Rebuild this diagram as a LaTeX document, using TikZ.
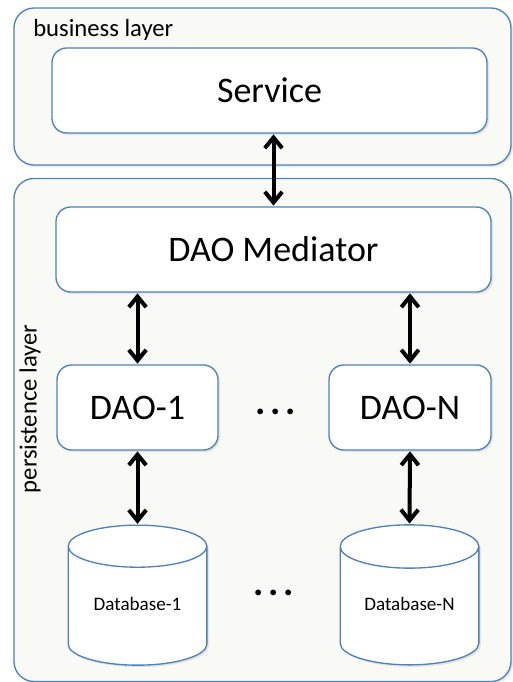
\documentclass[tikz,border=0pt]{standalone}
\usepackage{fontspec}
\setmainfont{Carlito}
\usepackage{xcolor}
\usetikzlibrary{arrows.meta,shapes.geometric,shadows}
\definecolor{boxblue}{RGB}{79,129,189}
\definecolor{layerfill}{RGB}{249,249,245}

\begin{document}
\begin{tikzpicture}[x=0.75pt,y=0.75pt,yscale=-1,xscale=1,
  softshadow/.style={drop shadow={opacity=0.18,shadow xshift=1.5pt,shadow yshift=-1.5pt}},
  layer/.style={draw=boxblue,line width=1pt,fill=layerfill,rounded corners=15pt,softshadow},
  box/.style={draw=boxblue,line width=1pt,fill=white,rounded corners=11pt,softshadow,inner sep=0pt,font=\fontsize{27}{30}\selectfont},
  db/.style={cylinder,shape border rotate=90,aspect=0.48,draw=boxblue,line width=1pt,fill=white,softshadow,inner sep=0pt,minimum width=104pt,minimum height=105pt,font=\fontsize{14.3}{16}\selectfont},
  dbtext/.style={inner sep=0pt,font=\fontsize{14.3}{16}\selectfont},
  layerlabel/.style={inner sep=0pt,font=\fontsize{18.5}{20}\selectfont},
  link/.style={{Straight Barb[length=8pt,width=13pt]}-{Straight Barb[length=8pt,width=13pt]},line width=3pt,shorten <=0.5pt,shorten >=0.5pt},
  dotsmark/.style={inner sep=0pt,font=\bfseries\fontsize{29}{30}\selectfont}]
\useasboundingbox (0,0) rectangle (512,682);

%Layers
\node [layer,minimum width=372.75pt,minimum height=117.75pt] (business) at (262.5,86.5) {};
\node [layer,minimum width=372.75pt,minimum height=377.25pt] (persistence) at (262.5,430) {};
% Text Node
\node [layerlabel,anchor=base west] (businesslabel) at (33,36) {business layer};
% Text Node
\node [layerlabel,rotate=90] (persistencelabel) at (30,409) {persistence layer};

%Boxes
\node [box,minimum width=326.25pt,minimum height=63.75pt] (service) at (269.5,90.5) {Service};
\node [box,minimum width=326.25pt,minimum height=63.75pt] (mediator) at (273.5,249.5) {DAO Mediator};
\node [box,minimum width=120.75pt,minimum height=63.75pt] (dao1) at (137.5,407.5) {DAO-1};
\node [box,minimum width=121.5pt,minimum height=63.75pt] (daon) at (410,407.5) {DAO-N};

%Databases
\node [db] (db1) at (137.5,606) {\phantom{Database-1}};
\node [db] (dbn) at (409.5,606) {\phantom{Database-N}};
% Text Node
\node [dbtext] (db1text) at (137.5,604) {Database-1};
% Text Node
\node [dbtext] (dbntext) at (409.5,604) {Database-N};

% Text Node
\node [dotsmark] (daodots) at (276,412) {.\hspace{3.5pt}.\hspace{3.5pt}.};
% Text Node
\node [dotsmark] (dbdots) at (274,593) {.\hspace{3.5pt}.\hspace{3.5pt}.};

%Straight Lines
\draw [link] (service.south -| mediator.north) -- (mediator.north);
\draw [link] (mediator.south -| dao1.north) -- (dao1.north);
\draw [link] (mediator.south -| daon.north) -- (daon.north);
\draw [link] (dao1.south) -- (db1.top);
\draw [link] (daon.south) -- (dbn.top);
\end{tikzpicture}
\end{document}
